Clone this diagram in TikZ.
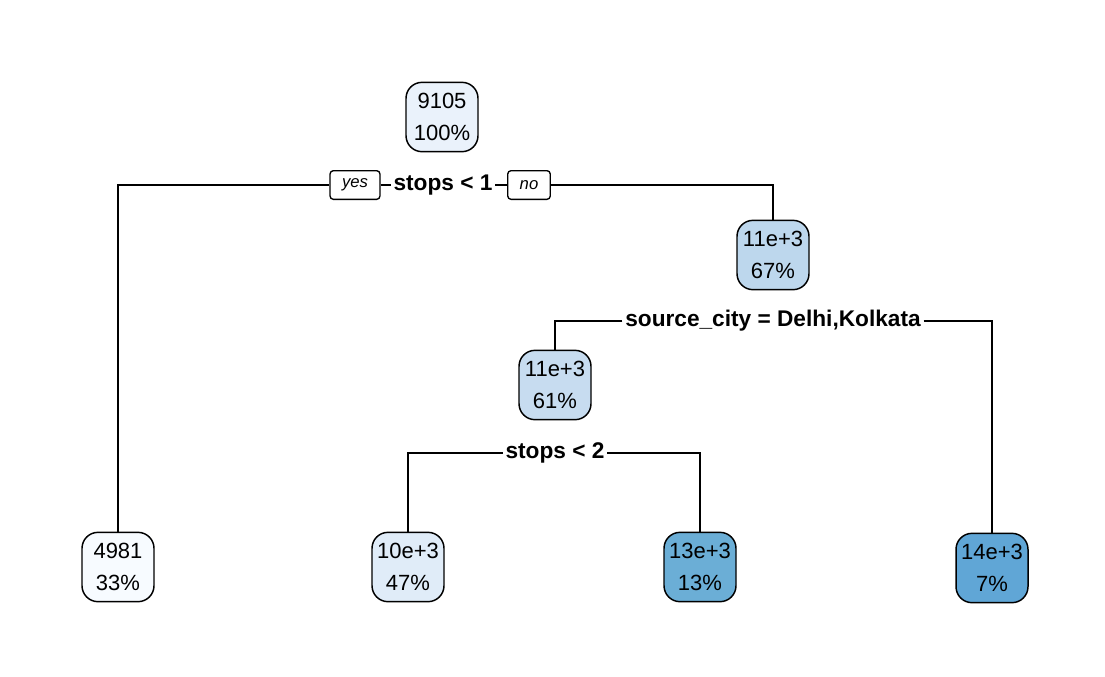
\documentclass[tikz,border=0pt]{standalone}
\usepackage{fontspec}
\setmainfont{Liberation Sans}
\definecolor{fillroot}{RGB}{234,242,251}
\definecolor{fillthirtythree}{RGB}{247,251,255}
\definecolor{fillfortyseven}{RGB}{224,236,248}
\definecolor{fillsixtyseven}{RGB}{189,215,237}
\definecolor{fillsixtyone}{RGB}{199,220,240}
\definecolor{fillthirteen}{RGB}{107,174,214}
\definecolor{fillseven}{RGB}{96,166,214}
\usepackage{tikz}
\usetikzlibrary{positioning}

\begin{document}
\begin{tikzpicture}[x=0.75pt, y=-0.75pt,
    box/.style={draw=black, line width=1.1pt, rounded corners=12pt, align=center,
      minimum width=54pt, minimum height=52pt, inner xsep=3pt,
      font=\fontsize{16.5}{24}\selectfont},
    split/.style={fill=white, inner xsep=2pt, inner ysep=1pt,
      font=\fontsize{17}{19}\selectfont\bfseries},
    answer/.style={draw=black, fill=white, line width=1pt, rounded corners=2.5pt,
      inner xsep=9pt, minimum height=21.5pt, font=\fontsize{12.5}{14}\selectfont\itshape},
    edge/.style={line width=1.4pt},
  ]
    \useasboundingbox (0,0) rectangle (1105,676);
    \node[box, fill=fillroot] (n1) at (442,117) {9105\\100\%};
    \node[split] (s1) at (443,185) {stops < 1};
    \node[answer] (yes) at (355,185) {yes};
    \node[answer] (no) at (529,185) {no};
    \node[box, fill=fillsixtyseven] (n3) at (773,255) {11e+3\\67\%};
    \node[split] (s3) at (773,321) {source\_city = Delhi,Kolkata};
    \node[box, fill=fillsixtyone] (n6) at (555,385) {11e+3\\61\%};
    \node[split] (s6) at (555,453) {stops < 2};
    \node[box, fill=fillthirtythree] (n2) at (118,567) {4981\\33\%};
    \node[box, fill=fillfortyseven] (n12) at (408,567) {10e+3\\47\%};
    \node[box, fill=fillthirteen] (n13) at (700,567) {13e+3\\13\%};
    \node[box, fill=fillseven] (n7) at (992,568) {14e+3\\7\%};
    \draw[edge] (yes) -- (s1) -- (no);
    \draw[edge] (yes.west) -| (n2.north);
    \draw[edge] (no.east) -| (n3.north);
    \draw[edge] (s3.west) -| (n6.north);
    \draw[edge] (s3.east) -| (n7.north);
    \draw[edge] (s6.west) -| (n12.north);
    \draw[edge] (s6.east) -| (n13.north);
\end{tikzpicture}
\end{document}
